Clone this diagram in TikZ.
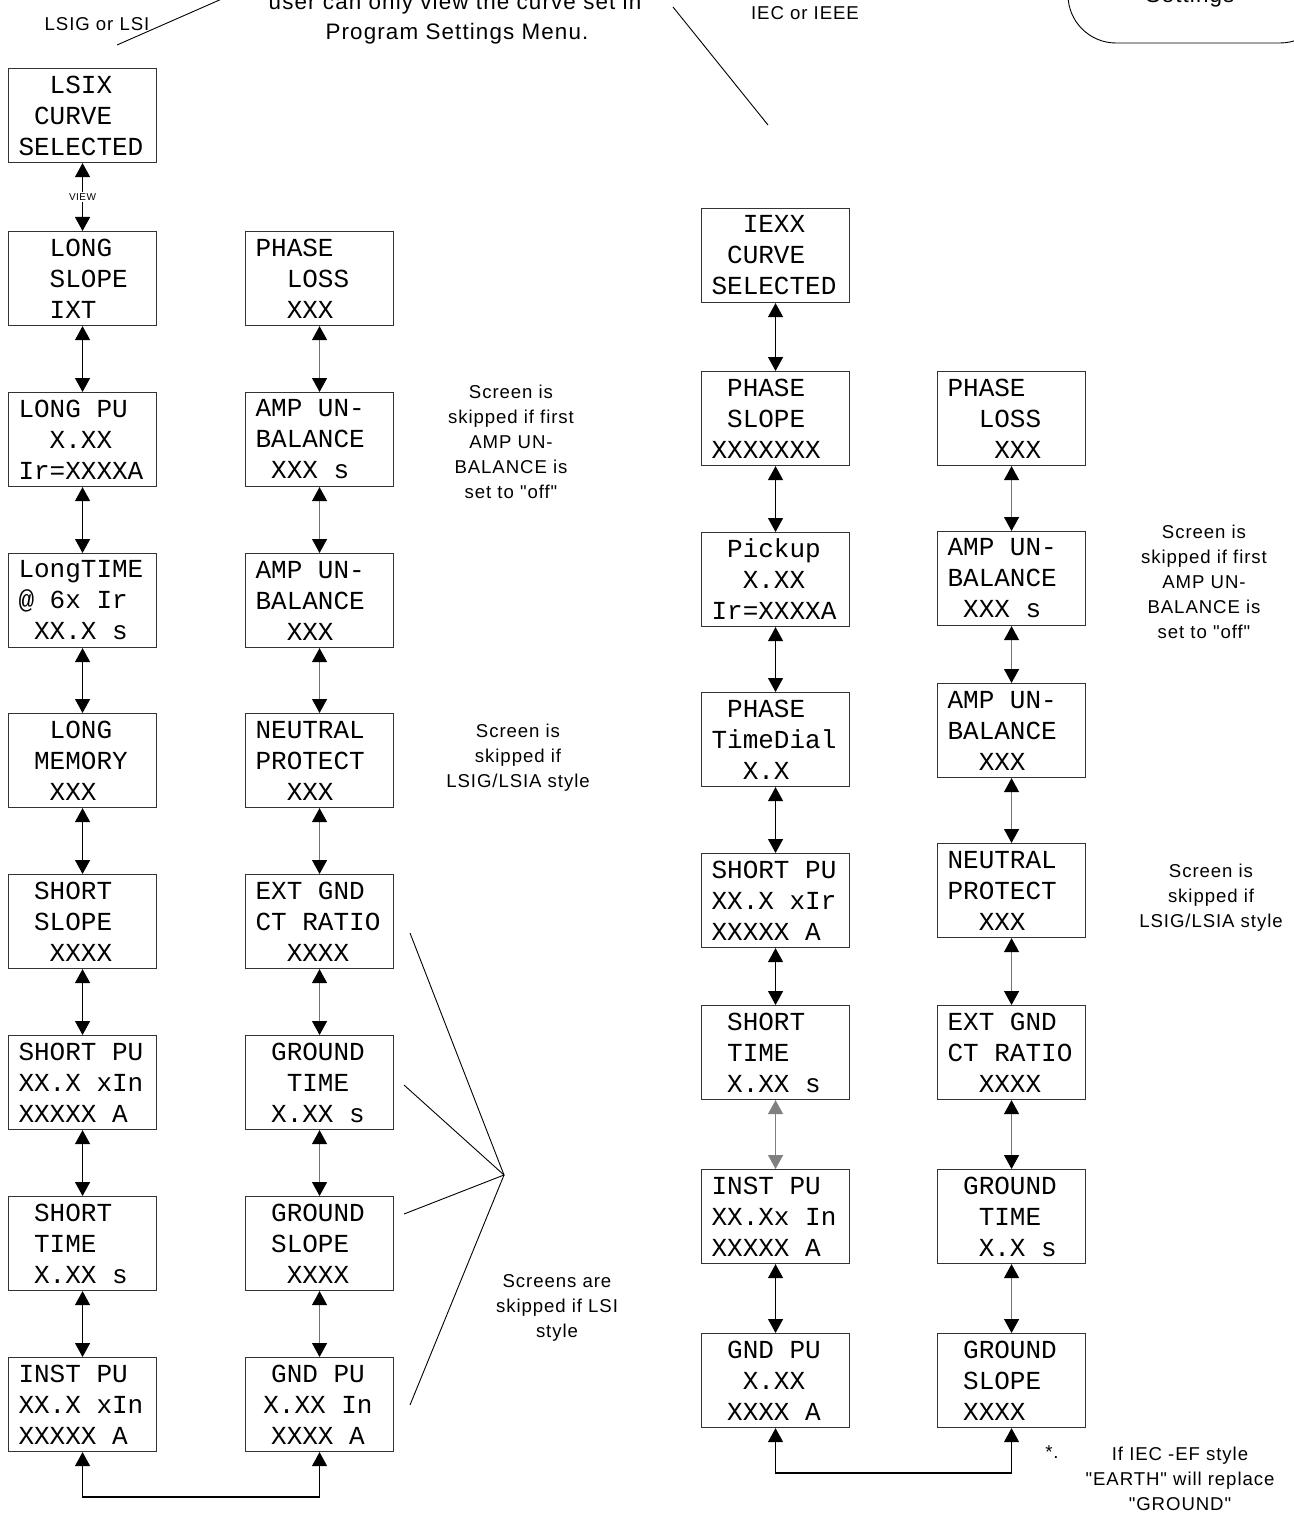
\documentclass[tikz,border=0pt]{standalone}
\usepackage{fontspec}
\setmainfont{Liberation Sans}
\newfontfamily\boxfont{Liberation Mono}
\newfontfamily\notefont{Liberation Sans}[LetterSpace=5]
\usetikzlibrary{arrows.meta}
\newcommand{\ind}[1]{\hspace*{#1em}}
\newcommand{\bl}{\hspace*{0.6em}}
\begin{document}
\begin{tikzpicture}[x=0.5pt,y=-0.5pt,
  scr/.style={draw=black!80, line width=0.55pt, anchor=north west, minimum width=74pt, minimum height=47pt,
    text width=64pt, inner xsep=5pt, inner ysep=0pt, align=left, font=\boxfont\fontsize{13}{15.5}\selectfont},
  note/.style={align=center, inner sep=0pt, font=\notefont\fontsize{9.3}{12.5}\selectfont},
  bigtxt/.style={inner sep=0pt, anchor=base, font=\notefont\fontsize{11.2}{14}\selectfont},
  tip/.tip={Triangle[length=7pt,width=7.5pt]},
  bi/.style={line width=0.6pt, tip-tip},
  bigray/.style={draw=black!55, line width=0.6pt, {Triangle[length=7pt,width=7.5pt,color=black]}-{Triangle[length=7pt,width=7.5pt,color=black]}},
  allgray/.style={draw=black!50, fill=black!50, line width=0.6pt, tip-tip},
  thin/.style={line width=0.45pt}
]
\useasboundingbox (0,0) rectangle (1294,1514);
\fill[white] (0,0) rectangle (1294,1514);

% ---------- column A ----------
\node[scr] (a1) at (8,68) {\ind{1.2}LSIX\\\ind{0.6}CURVE\\SELECTED};
\node[scr] (a2) at (8,231) {\ind{1.2}LONG\\\ind{1.2}SLOPE\\\ind{1.2}IXT};
\node[scr] (a3) at (8,392) {LONG\bl PU\\\ind{1.2}X.XX\\Ir=XXXXA};
\node[scr] (a4) at (8,553) {LongTIME\\@\bl 6x\bl Ir\\\ind{0.6}XX.X\bl s};
\node[scr] (a5) at (8,713) {\ind{1.2}LONG\\\ind{0.6}MEMORY\\\ind{1.2}XXX};
\node[scr] (a6) at (8,874) {\ind{0.6}SHORT\\\ind{0.6}SLOPE\\\ind{1.2}XXXX};
\node[scr] (a7) at (8,1035) {SHORT\bl PU\\XX.X\bl xIn\\XXXXX\bl A};
\node[scr] (a8) at (8,1196) {\ind{0.6}SHORT\\\ind{0.6}TIME\\\ind{0.6}X.XX\bl s};
\node[scr] (a9) at (8,1357) {INST\bl PU\\XX.X\bl xIn\\XXXXX\bl A};

% ---------- column B ----------
\node[scr] (b1) at (245,231) {PHASE\\\ind{1.2}LOSS\\\ind{1.2}XXX};
\node[scr] (b2) at (245,392) {AMP\bl UN-\\BALANCE\\\ind{0.6}XXX\bl s};
\node[scr] (b3) at (245,553) {AMP\bl UN-\\BALANCE\\\ind{1.2}XXX};
\node[scr] (b4) at (245,713) {NEUTRAL\\PROTECT\\\ind{1.2}XXX};
\node[scr] (b5) at (245,874) {EXT\bl GND\\CT\bl RATIO\\\ind{1.2}XXXX};
\node[scr] (b6) at (245,1035) {\ind{0.6}GROUND\\\ind{1.2}TIME\\\ind{0.6}X.XX\bl s};
\node[scr] (b7) at (245,1196) {\ind{0.6}GROUND\\\ind{0.6}SLOPE\\\ind{1.2}XXXX};
\node[scr] (b8) at (245,1357) {\ind{0.6}GND\bl PU\\\ind{0.3}X.XX\bl In\\\ind{0.6}XXXX\bl A};

% ---------- column C ----------
\node[scr] (c1) at (701,208) {\ind{1.2}IEXX\\\ind{0.6}CURVE\\SELECTED};
\node[scr] (c2) at (701,371) {\ind{0.6}PHASE\\\ind{0.6}SLOPE\\XXXXXXX};
\node[scr] (c3) at (701,532) {\ind{0.6}Pickup\\\ind{1.2}X.XX\\Ir=XXXXA};
\node[scr] (c4) at (701,692) {\ind{0.6}PHASE\\TimeDial\\\ind{1.2}X.X};
\node[scr] (c5) at (701,853) {SHORT\bl PU\\XX.X\bl xIr\\XXXXX\bl A};
\node[scr] (c6) at (701,1005) {\ind{0.6}SHORT\\\ind{0.6}TIME\\\ind{0.6}X.XX\bl s};
\node[scr] (c7) at (701,1169) {INST\bl PU\\XX.Xx\bl In\\XXXXX\bl A};
\node[scr] (c8) at (701,1333) {\ind{0.6}GND\bl PU\\\ind{1.2}X.XX\\\ind{0.6}XXXX\bl A};

% ---------- column D ----------
\node[scr] (d1) at (937,371) {PHASE\\\ind{1.2}LOSS\\\ind{1.8}XXX};
\node[scr] (d2) at (937,531) {AMP\bl UN-\\BALANCE\\\ind{0.6}XXX\bl s};
\node[scr] (d3) at (937,683) {AMP\bl UN-\\BALANCE\\\ind{1.2}XXX};
\node[scr] (d4) at (937,843) {NEUTRAL\\PROTECT\\\ind{1.2}XXX};
\node[scr] (d5) at (937,1005) {EXT\bl GND\\CT\bl RATIO\\\ind{1.2}XXXX};
\node[scr] (d6) at (937,1169) {\ind{0.6}GROUND\\\ind{1.2}TIME\\\ind{1.2}X.X\bl s};
\node[scr] (d7) at (937,1333) {\ind{0.6}GROUND\\\ind{0.6}SLOPE\\\ind{0.6}XXXX};

% ---------- connectors ----------
\draw[bi] (a1.south) -- node[fill=white, inner sep=1pt, font=\notefont\fontsize{5}{6}\selectfont]{VIEW} (a2.north);
\foreach \u/\v in {a2/a3,a3/a4,a4/a5,a5/a6,a6/a7,a7/a8,a8/a9,c1/c2,c2/c3,c3/c4,c4/c5,c5/c6,c7/c8}
  \draw[bi] (\u.south) -- (\v.north);
\draw[allgray] (c6.south) -- (c7.north);
\foreach \u/\v in {b1/b2,b2/b3,b3/b4,b4/b5,b5/b6,b6/b7,b7/b8,d1/d2,d2/d3,d3/d4,d4/d5,d5/d6,d6/d7}
  \draw[bigray] (\u.south) -- (\v.north);

\coordinate (botL) at (200,1497);
\coordinate (botR) at (893,1473);
\draw[bi] (a9.south) |- (botL) -| (b8.south);
\draw[bi] (c8.south) |- (botR) -| (d7.south);

% ---------- notes ----------
\node[note] (n1) at (511,442) {Screen is\\skipped if first\\AMP UN-\\BALANCE is\\set to "off"};
\node[note] (n2) at (518,758) {Screen is\\skipped if\\LSIG/LSIA style};
\node[note] (n3) at (557,1308) {Screens are\\skipped if LSI\\style};
\node[note] (n4) at (1204,582) {Screen is\\skipped if first\\AMP UN-\\BALANCE is\\set to "off"};
\node[note] (n5) at (1211,898) {Screen is\\skipped if\\LSIG/LSIA style};
\node[note] (n6) at (1180,1479) {If IEC -EF style\\"EARTH" will replace\\"GROUND"};
\node[note] (star) at (1052,1452) {*.};

% fan of pointer lines
\coordinate (fan) at (504,1175);
\coordinate (p1) at (410,933);
\coordinate (p2) at (404,1085);
\coordinate (p3) at (404,1214);
\coordinate (p4) at (410,1405);
\draw[thin] (p1) -- (fan) -- (p4);
\draw[thin] (p2) -- (fan) -- (p3);

% ---------- top texts ----------
\node[bigtxt] (t1) at (455,10) {user can only view the curve set in};
\node[bigtxt] (t2) at (457,40) {Program Settings Menu.};
\node[note, anchor=base] (lsig) at (97,31) {LSIG or LSI};
\node[note, anchor=base] (iec) at (805,20) {IEC or IEEE};
\coordinate (l1a) at (117,45);
\coordinate (l1b) at (240,-9);
\draw[thin] (l1a) -- (l1b);
\coordinate (l2a) at (673,7);
\coordinate (l2b) at (768,125);
\draw[thin] (l2a) -- (l2b);
\draw[thin, rounded corners=24pt] (1068,-80) -- (1068,43) -- (1328,43) -- (1328,-80);
\node[bigtxt] (set) at (1190,3) {Settings};
\end{tikzpicture}
\end{document}
